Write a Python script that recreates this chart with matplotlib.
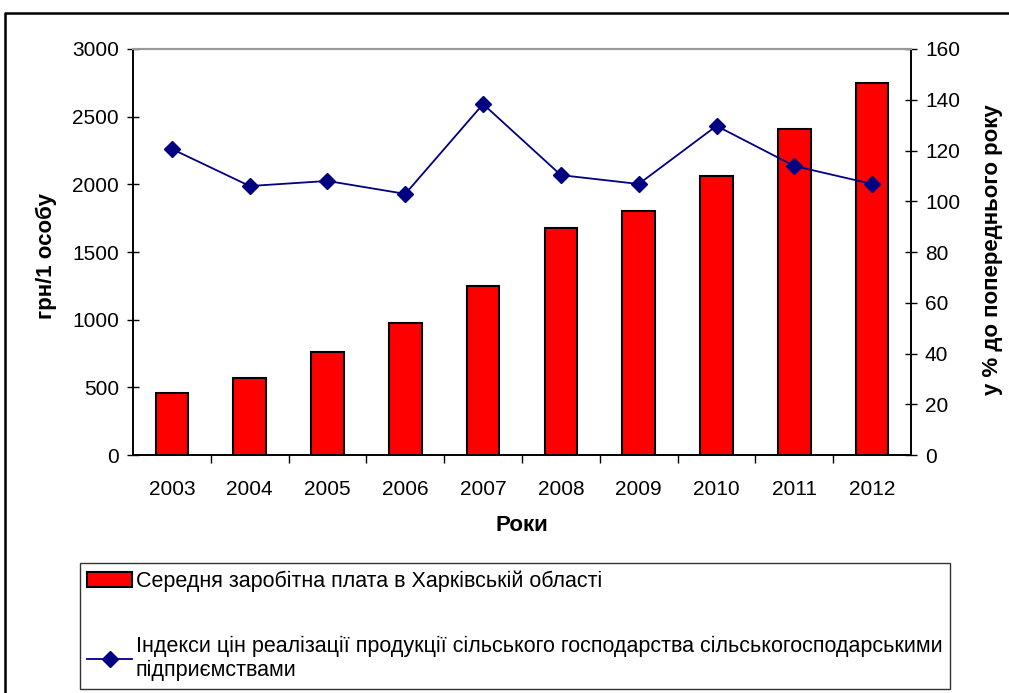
import matplotlib.pyplot as plt
from matplotlib.lines import Line2D
from matplotlib.patches import Patch
import numpy as np

plt.rcParams['font.family'] = ['Liberation Sans', 'DejaVu Sans']

# data
years = ['2003', '2004', '2005', '2006', '2007', '2008', '2009', '2010', '2011', '2012']
salary = [458, 569, 761, 976, 1249, 1678, 1803, 2062, 2409, 2749]
price_index = [120.6, 106.0, 108.0, 102.9, 138.3, 110.3, 106.8, 129.7, 113.9, 106.8]

bar_label = 'Середня заробітна плата в Харківській області'
line_label = ('Індекси цін реалізації продукції сільського господарства сільськогосподарськими\n'
              'підприємствами')

fig = plt.figure(figsize=(10.09, 6.93), dpi=100)
ax = fig.add_axes([0.1318, 0.3434, 0.7711, 0.5859])
ax2 = ax.twinx()

x = np.arange(len(years))
ax.bar(x, salary, width=0.42, color='#ff0000', edgecolor='black', linewidth=1.5, zorder=2)
ax2.plot(x, price_index, color='#000080', linewidth=1.3, marker='D', markersize=8.5)

ax.set_xlim(-0.5, len(years) - 0.5)
ax.set_ylim(0, 3000)
ax.set_yticks(range(0, 3001, 500))
ax2.set_ylim(0, 160)
ax2.set_yticks(range(0, 161, 20))

ax.set_xticks(x)
ax.set_xticklabels(years)
ax.set_xticks(np.arange(0.5, len(years) - 0.5), minor=True)
ax.tick_params(axis='x', which='major', length=0, pad=18, labelsize=15)
ax.tick_params(axis='x', which='minor', length=6, direction='out', width=1)
ax.tick_params(axis='y', length=8, direction='inout', width=1, labelsize=15, pad=6)
ax2.tick_params(axis='y', length=8, direction='inout', width=1, labelsize=15, pad=6)

for a in (ax, ax2):
    a.spines['top'].set_color('#999999')
    a.spines['top'].set_linewidth(1.5)
    a.spines['left'].set_linewidth(1.2)
    a.spines['right'].set_linewidth(1.2)
    a.spines['bottom'].set_linewidth(1.2)

ax.set_ylabel('грн/1 особу', fontsize=16, fontweight='bold')
ax.yaxis.set_label_coords(-0.0976, 0.49)
ax2.set_ylabel('у % до попереднього року', fontsize=16, fontweight='bold')
ax2.yaxis.set_label_coords(1.091, 0.505)
ax.set_xlabel('Роки', fontsize=16, fontweight='bold')
ax.xaxis.set_label_coords(0.5, -0.148)

# legend
handles = [Patch(facecolor='#ff0000', edgecolor='black', linewidth=1.5),
           Line2D([], [], color='#000080', linewidth=1.3, marker='D', markersize=8)]
leg = fig.legend(handles, [bar_label, line_label], loc='upper left',
                 bbox_to_anchor=(0.079, 0.188), fontsize=15.5, frameon=True,
                 fancybox=False, edgecolor='black', labelspacing=2.05,
                 handlelength=2.1, handletextpad=0.15, borderaxespad=0, borderpad=0.35)
leg.get_frame().set_linewidth(1.0)

# outer frame
fig.add_artist(Line2D([0.005, 0.005, 1.0], [0.0, 0.981, 0.981], color='black',
                      linewidth=1.8, transform=fig.transFigure))

fig.savefig('out.png', dpi=100)
